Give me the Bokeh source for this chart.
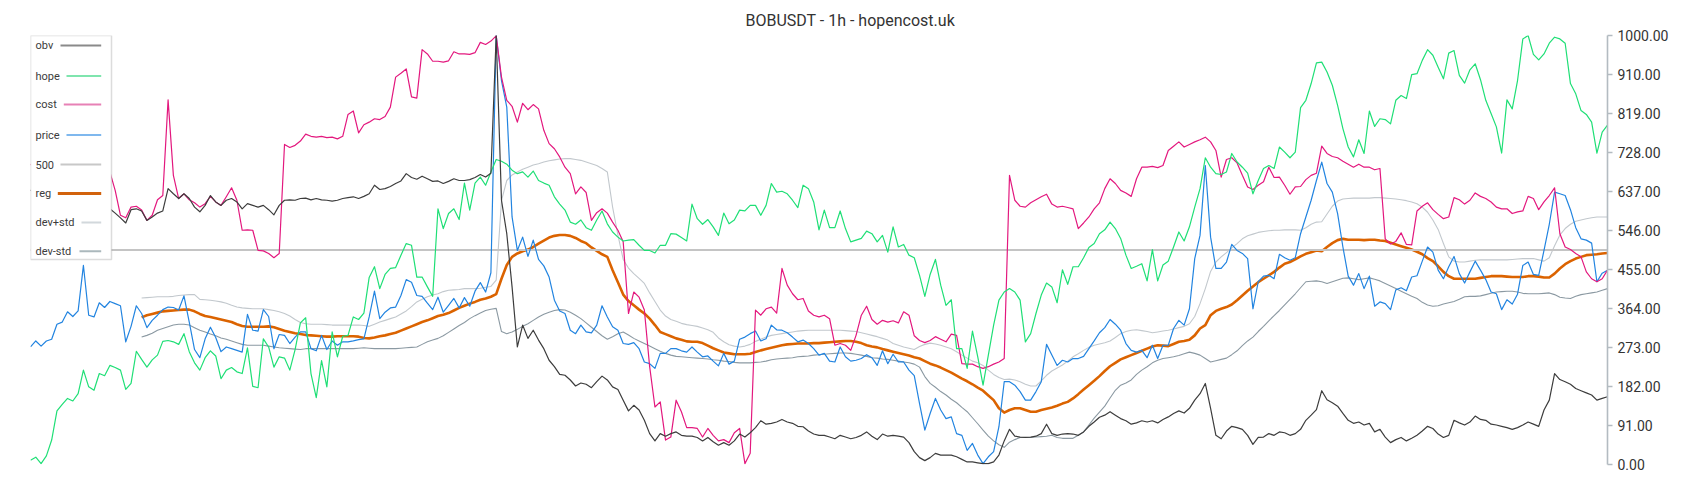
from bokeh.plotting import figure
from bokeh.models import (ColumnDataSource, Range1d, FixedTicker, NumeralTickFormatter,
                          BoxAnnotation, Label, Arrow)
from bokeh.embed import file_html
from bokeh.resources import INLINE

NA = float("nan")

# ---------------- data ----------------
idx = list(range(299))

price = [
    274, 288, 276, 288, 292, 327, 332, 356, 345, 358,
    464, 348, 344, 377, 366, 380, 375, 370, 286, 322,
    370, 352, 319, 336, 348, 361, 367, 366, 360, 393,
    332, 268, 249, 293, 320, 296, 263, 274, 270, 266,
    262, 350, 313, 311, 361, 345, 270, 303, 301, 282,
    297, 309, 309, 270, 265, 301, 268, 288, 278, 286,
    286, 288, 291, 293, 344, 404, 340, 355, 365, 367,
    394, 431, 425, 394, 392, 376, 361, 390, 355, 371,
    387, 365, 389, 369, 404, 424, 402, 447, 1000, 895,
    833, 577, 499, 530, 485, 523, 478, 463, 437, 383,
    358, 352, 313, 305, 325, 309, 307, 325, 370, 344,
    321, 313, 282, 280, 284, 270, 239, 235, 224, 259,
    259, 270, 270, 265, 262, 274, 262, 251, 253, 241,
    230, 259, 234, 241, 292, 297, 305, 311, 288, 293,
    325, 314, 313, 307, 297, 286, 290, 282, 270, 255,
    259, 241, 239, 274, 251, 241, 243, 247,
    256, 249, 231, 265, 235, 257, 239, 239, 220, 207,
    142, 80, 119, 154, 127, 107, 111, 72, 68, 33,
    49, 22, 2, 18, 30, 88, 193, 193, 185, 170,
    150, 150, 170, 193, 280, 255, 231, 243, 239, 247,
    247, 252, 270, 288, 307, 319, 338, 327, 313, 282,
    266, 262, 266,
    249, 278, 247, 278, 278, 317, 336, 325, 363, 480,
    534, 697, 530, 457, 457, 472, 513, 499, 492, 480,
    363, 426, 439, 441, 433, 490, 482, 476, 482, 538,
    577, 616, 662, 705, 655, 635, 585, 507, 439, 418,
    445, 410, 439, 369,
    379, 375, 361, 407, 412, 405, 437, 440, 474, 507,
    495, 453, 433, 461, 485, 445, 423, 449, 474, 453,
    431, 402, 398, 361, 384, 374, 397, 464, 472, 443,
    441, 499, 560, 635, 631, 627, 594, 552, 526, 523,
    516, 426, 446, 453,
]

obv = [
    640, 630, 625, 615, 620, 610, 605, 600, 598, 590,
    595, 600, 605, 600, 598, 596, 586, 575, 563, 594,
    596, 591, 569, 577, 586, 591, 643, 631, 620, 631,
    620, 600, 589, 604, 627, 612, 604, 616, 620, 612,
    596, 608, 604, 600, 604, 594, 582, 604, 616, 617,
    616, 620, 621, 617, 620, 617, 616, 614, 616, 620,
    622, 624, 620, 625, 631, 651, 641, 643, 648, 655,
    661, 678, 669, 665, 672, 666, 660, 661, 655, 660,
    666, 662, 662, 664, 669, 676, 670, 679, 1000, 616,
    538, 414, 274, 325, 294, 313, 290, 270, 243, 228,
    210, 208, 197, 183, 190,
    187, 179, 193, 206, 197, 181, 175, 150, 125, 138,
    127, 103, 72, 55, 72, 66, 72, 76, 68, 66,
    66, 63, 55, 63, 53, 45, 51, 45, 55, 71,
    64, 74, 86, 102, 94, 96, 99, 105, 99, 96,
    89, 88, 78, 71, 68, 68, 64, 60, 68, 64,
    60, 63, 68,
    76, 66, 58, 71, 66, 68, 66, 64, 51, 30,
    16, 9, 16, 26, 22, 22, 22, 18, 12, 6,
    6, 4, 2, 2, 6, 22, 55, 82, 66, 64,
    63, 64, 66, 72, 94, 72, 68, 71, 72, 71,
    68, 76, 89, 99, 110, 115, 123, 115, 107, 102,
    94, 97, 102,
    99, 102, 97, 105, 111, 119, 125, 120, 131, 150,
    165, 189, 131, 68, 60, 78, 89, 86, 82, 68,
    47, 63, 64, 72, 68, 76, 74, 68, 72, 82,
    103, 115, 128, 172, 151, 144, 136, 119, 103, 96,
    99, 92, 96, 76,
    82, 64, 51, 58, 63, 55, 61, 68, 78, 89,
    84, 71, 63, 68, 103, 97, 92, 99, 113, 105,
    103, 94, 92, 89, 86, 82, 86, 92, 99, 94,
    89, 127, 150, 212, 198, 193, 187, 177, 172, 167,
    162, 150, 154, 158,
]

cost = [
    700, 690, 710, 720, 705, 690, 700, 715, 710, 700,
    695, 705, 700, 690, 695,
    682, 639, 581, 575, 600, 602, 593, 569, 581, 617,
    627, 850, 674, 620, 631, 617, 610, 600, 608, 625,
    612, 604, 624, 645, 616, 546, 547, 546, 499, 498,
    492, 482, 492,
    746, 739, 744, 754, 770, 765, 763, 765, 762, 763,
    759, 765, 816, 824, 773, 792, 798, 806, 804, 811,
    833, 903, 912, 922, 857, 854, 967, 957, 940, 940,
    938, 941, 962, 957, 957, 956, 960, 984, 979, 987,
    999,
    903, 849, 835, 798, 842, 827, 839, 829, 779, 748,
    736, 717, 693, 678, 631, 647, 634, 569, 587, 596,
    586, 565, 546, 519, 352, 402, 390,
    360, 228, 134, 146, 57, 64, 150, 123, 86, 86,
    84, 64, 84, 68, 55, 58, 51, 74, 84, 2,
    26, 360, 348, 363, 367, 353, 457, 418, 398, 384,
    387, 358, 348, 344, 348, 340, 278, 282, 278, 266,
    301, 348,
    369, 338, 327, 336, 332, 335, 330, 356, 348, 300,
    289, 284, 289, 298, 292, 286, 304, 301, 235, 234,
    234, 228, 224, 228, 234, 239, 247, 674, 616, 602,
    600, 610, 617, 624, 630, 607, 600, 602, 599, 596,
    550, 563, 577, 596, 610, 643, 666, 655, 639, 633,
    625, 666, 693,
    693, 695, 692, 697, 732, 742, 752, 740, 746, 752,
    757, 763, 752, 732, 670, 711, 715, 703, 674, 647,
    641, 651, 659, 693, 669, 670, 651, 630, 647, 648,
    664, 674, 679, 742, 725, 718, 715, 707, 700, 693,
    700, 693, 693, 687,
    690, 526, 514, 520, 540, 513, 512, 591, 602, 610,
    594, 583, 573, 577, 622, 617, 607, 616, 633, 625,
    620, 612, 600, 596, 596, 585, 589, 591, 625, 620,
    594, 612, 627, 645, 538, 507, 501, 492, 484, 449,
    433, 426, 433, 453,
]

hope = [
    10, 17, 2, 20, 57, 125, 140, 154, 148, 165,
    220, 181, 173, 212, 207, 231, 226, 220, 175, 189,
    264, 245, 227, 244, 255, 287, 289, 286, 280,
    305, 263, 237, 220, 249, 265, 253, 200, 220, 226,
    216, 212, 272, 182, 179, 293, 274, 227, 251, 248,
    220, 268, 330,
    342, 212, 156, 242, 181, 309, 251, 299, 301, 344,
    338, 353, 436, 461, 410, 443, 457, 459, 488, 515,
    511, 437, 437, 414, 392, 596, 550, 585, 596, 571,
    656, 593, 656, 670, 651, 682, 711, 707, 700, 686,
    678, 682, 670, 684, 662, 656, 651, 624, 607, 593,
    565, 560, 570,
    552, 546, 570, 591, 561, 542, 530, 521, 523, 524,
    511, 499, 499, 493, 511, 511, 538, 537, 529, 521,
    607, 573, 560, 571, 554, 534, 586, 561, 570, 593,
    591, 604, 604, 581, 604, 655, 635, 637, 631, 616,
    599, 651, 643, 612, 547, 593, 552, 552, 591, 550,
    519, 523, 527,
    544, 538, 519, 534, 495, 554, 507, 513, 488, 482,
    441, 392, 443, 478, 418, 371, 384, 270, 270, 224,
    311, 251, 185, 255, 325, 383, 402, 410, 402, 383,
    286, 305, 352, 395, 423, 414, 377, 454, 420, 461,
    461, 482, 506, 515, 538, 547, 565, 550, 527, 488,
    457, 462, 468,
    428, 501, 428, 465, 474, 507, 542, 521, 554, 600,
    643, 715, 693, 678, 676, 682, 725, 705, 693, 679,
    631, 662, 690, 697, 690, 740, 728, 715, 728, 832,
    849, 888, 936, 938, 915, 884, 837, 783, 740, 717,
    757, 725, 824, 788,
    806, 804, 794, 849, 860, 853, 909, 911, 942, 967,
    954, 926, 899, 959, 965, 907, 889, 920, 934, 897,
    849, 818, 787, 726, 850, 829, 895, 992, 1000, 956,
    943, 957, 982, 996, 992, 982, 888, 864, 825, 816,
    798, 726, 775, 791,
]

reg = [NA] * 21 + [
    343, 348, 351, 354, 357, 358, 359, 360, 361, 361,
    357, 351, 346, 344, 341, 338, 335, 332, 327, 323,
    321, 321, 321, 321, 322, 320, 316, 312, 309, 306,
    304, 302, 301, 300, 299, 298, 298, 299, 299, 299,
    299, 298, 295, 294, 296, 299, 301, 304, 307, 312,
    317, 322, 327, 332, 336, 341, 346, 349, 353, 359,
    365, 370, 375, 379, 384, 387, 391, 397, 433, 465,
    484, 492, 497, 501, 507, 515, 522, 529, 533, 535,
    535, 533, 528, 521, 516, 506, 498, 490, 484, 453,
    425, 396, 381, 371, 361, 352, 340, 325, 309, 304,
    299, 294, 291, 287, 286, 286, 283, 277, 271, 266,
    261, 259, 257, 257, 257, 258, 262, 266, 269, 272,
    275, 278, 280, 281, 282, 282, 282, 283, 283, 284,
    285, 286, 287, 288, 288, 286, 283, 278, 275, 273,
    269, 266, 263, 260, 257, 254, 250, 247, 241, 235,
    231, 226, 220, 214, 207, 200, 194, 187, 179, 172,
    161, 150, 131, 121, 127, 131, 131, 127, 123, 123,
    127, 130, 133, 137, 142, 146, 154, 164, 175, 185,
    195, 206, 218, 229, 237, 245, 250, 255, 260, 265,
    270, 275, 278, 277, 276, 281, 286, 288, 291, 301,
    317, 325, 348, 358, 363, 367, 373, 383, 394, 405,
    415, 425, 433, 441, 449, 459, 468, 472, 478, 485,
    491, 495, 499, 497, 507, 516, 523, 526, 524, 524,
    524, 523, 524, 524, 522, 521, 517, 513, 509, 505,
    501, 496, 490, 481, 474, 462, 449, 439, 433, 433,
    433, 433, 433, 435, 437, 439, 439, 439, 438, 437,
    437, 437, 439, 439, 438, 436, 436, 445, 457, 467,
    474, 480, 484, 488, 489, 490, 492, 493,
]

dev_plus = [NA] * 21 + [
    388, 389, 390, 391, 391, 391, 392, 394, 395, 396,
    396, 385, 384, 383, 381, 379, 376, 371, 367, 365,
    364, 363, 363, 363, 361, 359, 356, 352, 346, 338,
    331, 328, 327, 327, 327, 326, 325, 325, 325, 325,
    325, 325, 324, 322, 327, 332, 336, 340, 344, 351,
    358, 368, 379, 385, 391, 395, 398, 403, 406, 407,
    408, 410, 410, 410, 411, 413, 415, 430, 615, 662,
    675, 682, 688, 693, 698, 701, 705, 708, 710, 712,
    713, 713, 711, 709, 705, 701, 697, 690, 682, 600,
    535, 478, 458, 445, 434, 422, 400, 380, 360, 346,
    338, 334, 329, 326, 324, 322, 318, 314, 308, 295,
    286, 279, 276, 274, 276, 280, 287, 292, 297, 301,
    303, 305, 307, 309, 311, 312, 313, 313, 313, 313,
    313, 313, 313, 312, 311, 310, 307, 304, 301, 298,
    294, 290, 282, 278, 274, 271, 268, 275, 280, 283,
    281, 278, 274, 270, 263, 255, 248, 241, 237, 231,
    220, 210, 203, 198, 199, 197, 193, 187, 183, 183,
    195, 208, 218, 225, 232, 241, 251, 258, 266, 273,
    278, 281, 284, 288, 296, 305, 310, 313, 314, 312,
    310, 307, 309, 311, 313, 316, 319, 322, 328, 345,
    375, 410, 450, 472, 484, 494, 505, 515, 526, 533,
    537, 541, 543, 545, 546, 546, 547, 547, 547, 546,
    552, 560, 565, 566, 584, 602, 614, 619, 620, 621,
    621, 621, 621, 622, 622, 621, 620, 619, 617, 615,
    612, 608, 600, 588, 570, 548, 515, 484, 474, 472,
    472, 474, 476, 477, 477, 477, 477, 477, 477, 478,
    479, 480, 480, 480, 477, 474, 482, 510, 535, 550,
    560, 567, 570, 573, 575, 577, 577, 577,
]

dev_minus = [NA] * 21 + [
    297, 301, 306, 313, 317, 321, 325, 327, 327, 325,
    319, 313, 309, 304, 300, 295, 292, 288, 284, 280,
    278, 278, 278, 278, 276, 274, 272, 271, 270, 269,
    268, 270, 270, 270, 270, 270, 270, 270, 270, 270,
    270, 271, 272, 271, 270, 270, 270, 270, 270, 271,
    272, 273, 274, 280, 286, 290, 294, 300, 308, 316,
    324, 331, 340, 347, 353, 359, 362, 364, 310, 305,
    309, 315, 322, 328, 336, 344, 350, 355, 359, 361,
    360, 355, 348, 340, 330, 320, 310, 300, 292, 298,
    305, 309, 302, 294, 288, 282, 276, 270, 264, 259,
    255, 252, 251, 250, 249, 248, 247, 246, 244, 243,
    241, 240, 238, 237, 237, 237, 238, 239, 241, 244,
    246, 247, 248, 249, 251, 252, 253, 255, 256, 257,
    258, 259, 260, 260, 259, 257, 255, 252, 249, 248,
    246, 245, 243, 241, 239, 237, 234, 227, 205, 189,
    180, 170, 162, 152, 144, 133, 123, 109, 95, 80,
    66, 55, 46, 40, 52, 58, 63, 63, 63, 64,
    65, 66, 68, 63, 61, 61, 61, 68, 76, 92,
    108, 122, 136, 155, 173, 185, 190, 197, 210, 220,
    228, 237, 243, 247, 249, 251, 254, 258, 262, 259,
    255, 247, 239, 242, 245, 248, 256, 265, 277, 288,
    297, 310, 322, 335, 347, 359, 372, 385, 398, 412,
    426, 427, 428, 426, 422, 426, 430, 434, 435, 433,
    431, 433, 435, 432, 428, 422, 416, 410, 404, 398,
    392, 387, 378, 372, 369, 370, 374, 377, 380, 385,
    391, 392, 392, 393, 396, 399, 402, 403, 404, 404,
    402, 399, 398, 398, 398, 399, 400, 396, 390, 388,
    387, 392, 396, 398, 400, 402, 406, 410,
]

line500 = [500] * len(idx)

y_ticks = [0, 91, 182, 273, 364, 455, 546, 637, 728, 819, 910, 1000]
title_text = "BOBUSDT - 1h - hopencost.uk"
legend_names = ["obv", "hope", "cost", "price", "500", "reg", "dev+std", "dev-std"]

for name, arr in [("price", price), ("obv", obv), ("cost", cost), ("hope", hope),
                  ("reg", reg), ("dev_plus", dev_plus), ("dev_minus", dev_minus)]:
    assert len(arr) == len(idx), (name, len(arr))

# ---------------- style ----------------
line_colors = {
    "obv": "#3d3d3d", "hope": "#1fdf76", "cost": "#e3187e", "price": "#2284e0",
    "500": "#c4c4c4", "reg": "#db6300", "dev+std": "#c2c8cd", "dev-std": "#8b99a2",
}
line_widths = {
    "obv": 1.2, "hope": 1.2, "cost": 1.2, "price": 1.2,
    "500": 2, "reg": 2.6, "dev+std": 1.1, "dev-std": 1.1,
}
sample_colors = {
    "obv": "#8a8a8a", "hope": "#7fe5ae", "cost": "#e781b6", "price": "#7fb8ee",
    "500": "#c8c8c8", "reg": "#d2620c", "dev+std": "#d2d8dc", "dev-std": "#abb8bc",
}

# the page places the figure at (0, 0); frame spans x 30..1607, y 35..464
ML, MR, MT, MB = 30, 85, 35, 28
FRAME_W, FRAME_H = 1577, 429
W, H = ML + FRAME_W + MR, MT + FRAME_H + MB
FL, FR = ML, ML + FRAME_W
FT, FB = MT, MT + FRAME_H
XMAX = len(idx) - 1


def dx(px):
    return (px - FL) / (FR - FL) * XMAX


def dy(py):
    return (FB - py) / (FB - FT) * 1000.0


p = figure(width=W, height=H, output_backend="svg", toolbar_location=None,
           x_range=Range1d(0, XMAX), y_range=Range1d(0, 1000),
           x_axis_location=None, y_axis_location="right",
           min_border_left=ML, min_border_right=MR,
           min_border_top=MT, min_border_bottom=MB,
           title=title_text)

p.title.align = "left"
p.title.offset = 715
p.title.text_font = "Roboto"
p.title.text_font_size = "16px"
p.title.text_font_style = "normal"
p.title.text_color = "#333333"
p.title.standoff = 12

p.outline_line_color = None
p.xgrid.visible = False
p.ygrid.visible = False
p.background_fill_color = "white"
p.border_fill_color = "white"

ax = p.yaxis[0]
ax.ticker = FixedTicker(ticks=y_ticks)
ax.formatter = NumeralTickFormatter(format="0.00")
ax.axis_line_color = "#b3bbc1"
ax.axis_line_width = 1.6
ax.major_tick_line_color = "#b3bbc1"
ax.major_tick_line_width = 1.6
ax.major_tick_out = 5
ax.major_tick_in = 0
ax.minor_tick_line_color = None
ax.major_label_standoff = 5
ax.major_label_text_font = "Roboto"
ax.major_label_text_font_size = "14px"
ax.major_label_text_color = "#333333"

src = ColumnDataSource(dict(x=idx, obv=obv, hope=hope, cost=cost, price=price,
                            l500=line500, reg=reg, dplus=dev_plus, dminus=dev_minus))
cols = {"obv": "obv", "hope": "hope", "cost": "cost", "price": "price",
        "500": "l500", "reg": "reg", "dev+std": "dplus", "dev-std": "dminus"}

# draw in reverse legend order so the first series ends on top
for name in reversed(legend_names):
    p.line("x", cols[name], source=src, line_color=line_colors[name],
           line_width=line_widths[name], line_join="round")

# ---------------- legend (label, then sample line) ----------------
p.add_layout(BoxAnnotation(left=dx(30), right=dx(111), top=dy(35), bottom=dy(259),
                           fill_color="white", fill_alpha=1.0,
                           line_color="#8c8c8c", line_width=1.5, level="overlay"))

legend_rows_y = [45, 75.5, 104, 134.5, 164, 193, 222, 250.7]
legend_sample_x0 = [60, 66, 63.3, 66, 60, 57.3, 81, 79]
for name, ypx, x0 in zip(legend_names, legend_rows_y, legend_sample_x0):
    p.add_layout(Arrow(x_start=dx(x0), y_start=dy(ypx), x_end=dx(100.7), y_end=dy(ypx),
                       start=None, end=None, line_color=sample_colors[name],
                       line_width=3 if name == "reg" else 2, level="overlay"))
    p.add_layout(Label(x=dx(35), y=dy(ypx), text=name, text_font="Roboto",
                       text_font_size="11px", text_color="#3c3c3c",
                       text_baseline="middle", text_align="left", level="overlay"))

open("out.html", "w").write(file_html(p, INLINE))
